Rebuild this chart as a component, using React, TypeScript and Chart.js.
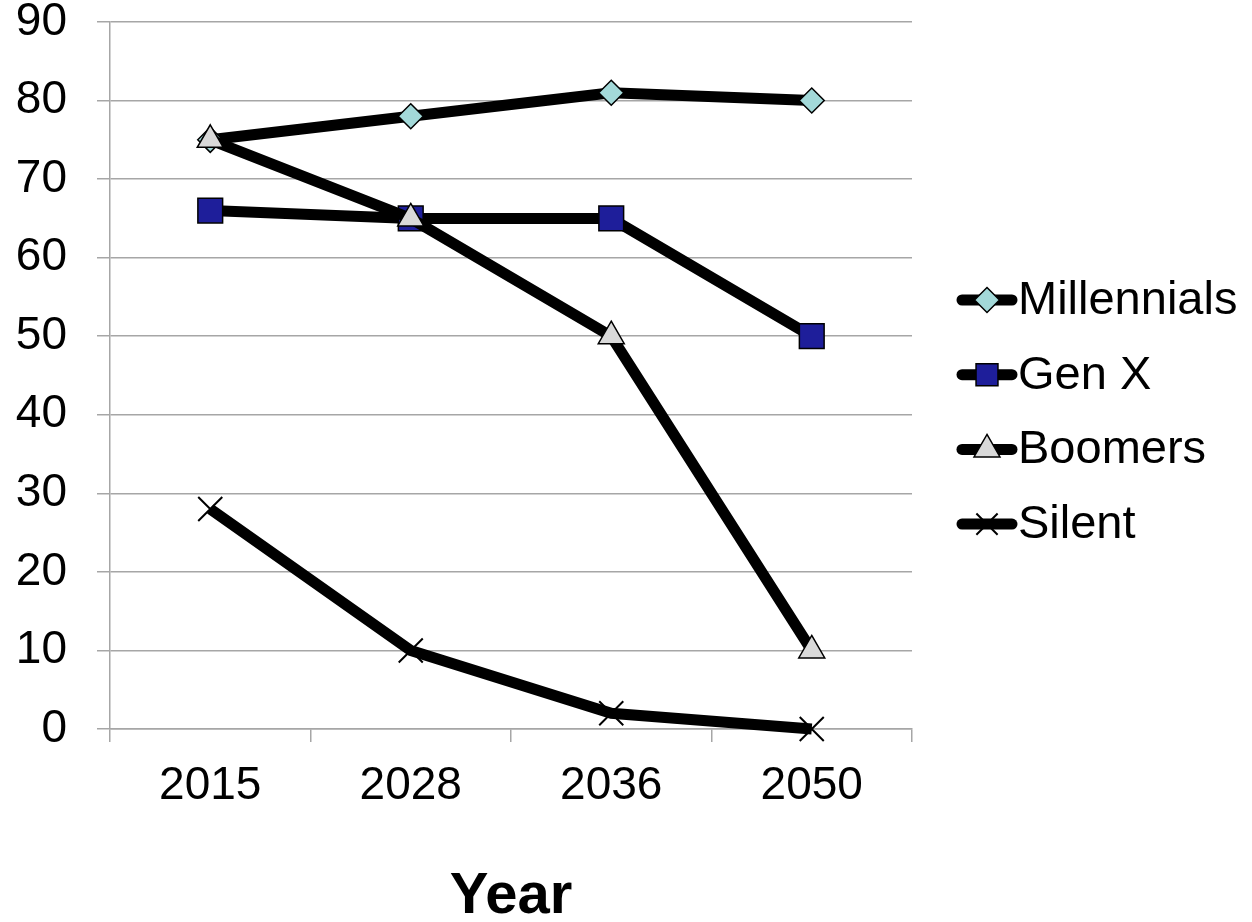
import React, { useEffect, useRef } from "react";
import { Chart, registerables } from "chart.js";

Chart.register(...registerables);

const years = ["2015", "2028", "2036", "2050"];
const millennials = [75, 78, 81, 80];
const genX = [66, 65, 65, 50];
const boomers = [75, 65, 50, 10];
const silent = [28, 10, 2, 0];
const seriesNames = ["Millennials", "Gen X", "Boomers", "Silent"];
const xTitle = "Year";

const FONT = "'Liberation Sans', Arial, Helvetica, sans-serif";
const GRID = "#a6a6a6";

type Mk = { style: string; fill: string; r: number; bw: number };
const markers: Mk[] = [
  { style: "rectRot", fill: "#a3d9d9", r: 12.5, bw: 1.5 },
  { style: "rect", fill: "#1e1e9a", r: 17.5, bw: 1.5 },
  { style: "triangle", fill: "#d9d9d9", r: 15, bw: 1.5 },
  { style: "crossRot", fill: "#000000", r: 17, bw: 2 },
];

function drawMarker(ctx: CanvasRenderingContext2D, m: Mk, x: number, y: number, r: number) {
  ctx.save();
  ctx.fillStyle = m.fill;
  ctx.strokeStyle = "#000";
  ctx.lineWidth = m.bw;
  ctx.beginPath();
  if (m.style === "rectRot") {
    ctx.moveTo(x, y - r);
    ctx.lineTo(x + r, y);
    ctx.lineTo(x, y + r);
    ctx.lineTo(x - r, y);
    ctx.closePath();
    ctx.fill();
    ctx.stroke();
  } else if (m.style === "rect") {
    const s = r * Math.SQRT1_2;
    ctx.rect(x - s, y - s, 2 * s, 2 * s);
    ctx.fill();
    ctx.stroke();
  } else if (m.style === "triangle") {
    ctx.moveTo(x, y - r);
    ctx.lineTo(x + r * 0.866, y + r * 0.5);
    ctx.lineTo(x - r * 0.866, y + r * 0.5);
    ctx.closePath();
    ctx.fill();
    ctx.stroke();
  } else {
    const s = r * Math.SQRT1_2;
    ctx.moveTo(x - s, y - s);
    ctx.lineTo(x + s, y + s);
    ctx.moveTo(x + s, y - s);
    ctx.lineTo(x - s, y + s);
    ctx.stroke();
  }
  ctx.restore();
}

const legendPlugin = {
  id: "customLegend",
  afterDraw(chart: any) {
    const ctx: CanvasRenderingContext2D = chart.ctx;
    const x0 = chart.chartArea.right + 45;
    const y0 = 300;
    const step = 74.7;
    seriesNames.forEach((name, i) => {
      const y = y0 + i * step;
      ctx.save();
      ctx.strokeStyle = "#000";
      ctx.lineWidth = 11;
      ctx.lineCap = "round";
      ctx.beginPath();
      ctx.moveTo(x0 + 5, y);
      ctx.lineTo(x0 + 55, y);
      ctx.stroke();
      ctx.restore();
      const m = markers[i];
      drawMarker(ctx, m, x0 + 30, y, i === 1 ? 15.5 : i === 3 ? 15 : m.r);
      ctx.save();
      ctx.fillStyle = "#000";
      ctx.font = `47px ${FONT}`;
      ctx.textBaseline = "middle";
      ctx.textAlign = "left";
      ctx.fillText(name, x0 + 61, y + 1);
      ctx.restore();
    });
  },
};

export default function App() {
  const ref = useRef<HTMLCanvasElement | null>(null);
  useEffect(() => {
    if (!ref.current) return;
    const series = [millennials, genX, boomers, silent];
    const orders = [2, 2, 1, 3];
    const chart = new Chart(ref.current, {
      type: "line",
      data: {
        labels: years,
        datasets: series.map((d, i) => ({
          label: seriesNames[i],
          data: d,
          borderColor: "#000",
          borderWidth: 11,
          pointStyle: markers[i].style as any,
          pointRadius: markers[i].r,
          pointBackgroundColor: markers[i].fill,
          pointBorderColor: "#000",
          pointBorderWidth: markers[i].bw,
          order: orders[i],
          clip: false as any,
          tension: 0,
        })),
      },
      options: {
        responsive: false,
        animation: false,
        layout: { padding: { top: 22, right: 340, left: 0, bottom: 0 } },
        plugins: { legend: { display: false }, tooltip: { enabled: false } },
        scales: {
          x: {
            offset: true,
            grid: {
              offset: true,
              drawOnChartArea: false,
              drawTicks: true,
              tickLength: 13,
              color: GRID,
              lineWidth: 1.5,
            },
            border: { display: true, color: GRID, width: 1.5 },
            ticks: {
              color: "#000",
              padding: 17,
              font: { family: FONT, size: 46 },
              maxRotation: 0,
            },
            title: {
              display: true,
              text: xTitle,
              color: "#000",
              font: { family: FONT, size: 58, weight: "bold", lineHeight: 1 },
              padding: { top: 0, bottom: -4 },
            },
            afterFit: (s: any) => {
              s.height = 193;
            },
          },
          y: {
            min: 0,
            max: 90,
            ticks: {
              stepSize: 10,
              color: "#000",
              padding: 30,
              font: { family: FONT, size: 46 },
            },
            grid: { color: GRID, lineWidth: 1.5, tickLength: 13, drawTicks: true },
            border: { display: true, color: GRID, width: 1.5 },
            afterFit: (s: any) => {
              s.width = 110;
              s.paddingTop = 22;
              s.paddingBottom = 0;
            },
          },
        },
      },
      plugins: [legendPlugin],
    });
    return () => chart.destroy();
  }, []);
  return (
    <div style={{ position: "fixed", left: 0, top: 0, width: 1252, height: 922, background: "#fff" }}>
      <canvas ref={ref} width={1252} height={922} />
    </div>
  );
}
